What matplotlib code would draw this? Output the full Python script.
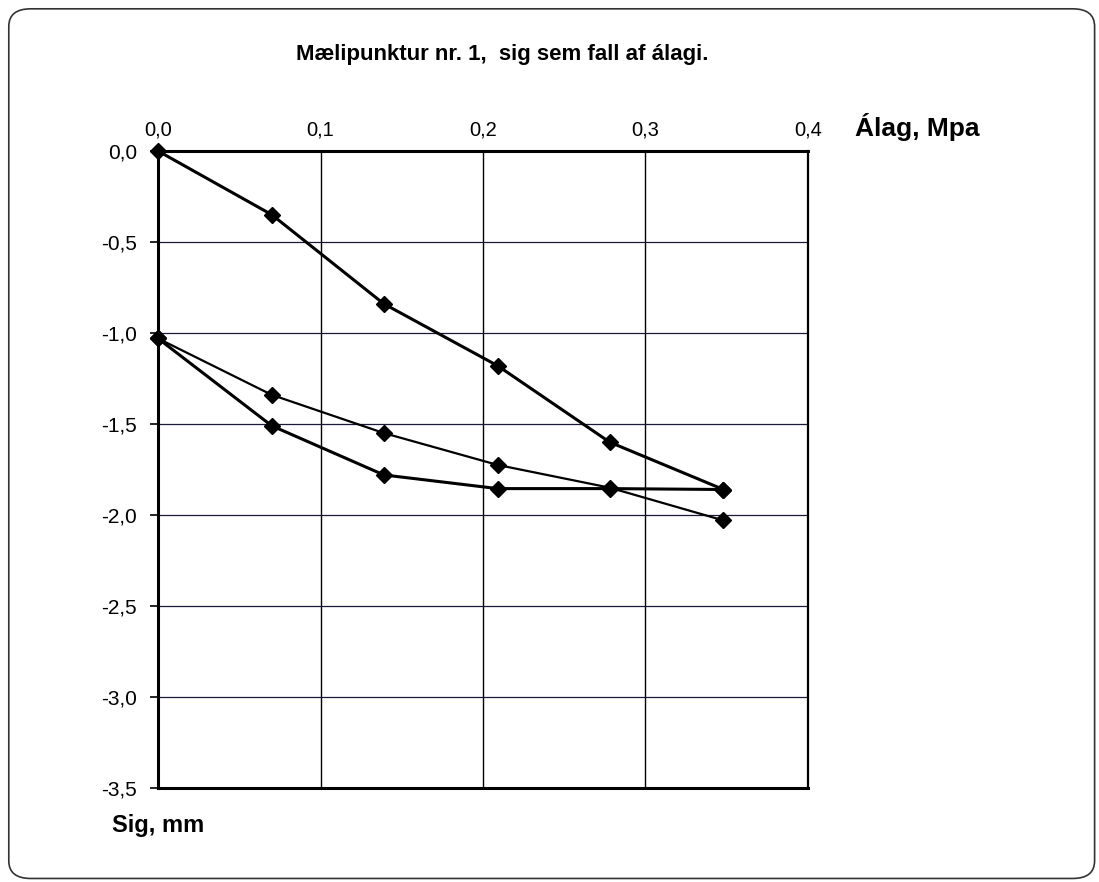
import matplotlib.pyplot as plt
from matplotlib.patches import FancyBboxPatch
from matplotlib import font_manager
import numpy as np

# data
alag = [0.0, 0.07, 0.139, 0.209, 0.278, 0.348]
sig_load = [0.0, -0.35, -0.84, -1.18, -1.60, -1.86]
alag_unload = [0.348, 0.278, 0.209, 0.139, 0.07, 0.0]
sig_unload = [-1.86, -1.855, -1.855, -1.78, -1.51, -1.03]
sig_reload = [-1.03, -1.34, -1.55, -1.725, -1.85, -2.03]

xticks = [0.0, 0.1, 0.2, 0.3, 0.4]
yticks = [0.0, -0.5, -1.0, -1.5, -2.0, -2.5, -3.0, -3.5]

names = {f.name for f in font_manager.fontManager.ttflist}
narrow = 'Liberation Sans Narrow' if 'Liberation Sans Narrow' in names else 'Liberation Sans'
plt.rcParams['font.family'] = [narrow, 'DejaVu Sans']

fig = plt.figure(figsize=(10.99, 8.82), dpi=100)
fig.patches.append(FancyBboxPatch((0.008, 0.004), 0.988, 0.986,
                                  boxstyle='round,pad=0,rounding_size=0.02',
                                  transform=fig.transFigure, fill=False,
                                  edgecolor='#333333', linewidth=1.2))

ax = fig.add_axes([0.1438, 0.1066, 0.5914, 0.7222])
ax.set_xlim(0, 0.4)
ax.set_ylim(-3.5, 0)

for v in xticks[1:-1]:
    ax.axvline(v, color='black', lw=1.0, zorder=1)
for v in yticks[1:-1]:
    ax.axhline(v, color='#1a1a3a', lw=0.9, zorder=1)

ax.plot(alag, sig_load, color='black', lw=2.2, marker='D', ms=8, zorder=3, clip_on=False)
ax.plot(alag_unload, sig_unload, color='black', lw=2.2, marker='D', ms=8, zorder=3, clip_on=False)
ax.plot(alag, sig_reload, color='black', lw=1.6, marker='D', ms=8, zorder=3, clip_on=False)

ax.xaxis.tick_top()
ax.set_xticks(xticks)
ax.set_xticklabels([f'{v:.1f}'.replace('.', ',') for v in xticks], fontsize=14.5)
ax.set_yticks(yticks)
ax.set_yticklabels([f'{v:.1f}'.replace('.', ',').replace('-0,0', '0,0') for v in yticks], fontsize=15)
ax.tick_params(axis='x', length=0, pad=8)
ax.tick_params(axis='y', length=6, width=1.2, pad=9)

for s in ['left', 'top', 'bottom']:
    ax.spines[s].set_linewidth(2.2)
ax.spines['right'].set_linewidth(1.6)

fig.text(0.457, 0.938, 'Mælipunktur nr. 1,  sig sem fall af álagi.', fontsize=16,
         fontweight='bold', ha='center', va='center')
fig.text(0.778, 0.856, 'Álag, Mpa', fontsize=19, fontweight='bold', ha='left', va='center')
fig.text(0.102, 0.064, 'Sig, mm', fontsize=17, fontweight='bold', ha='left', va='center')

fig.savefig('out.png', dpi=100)
